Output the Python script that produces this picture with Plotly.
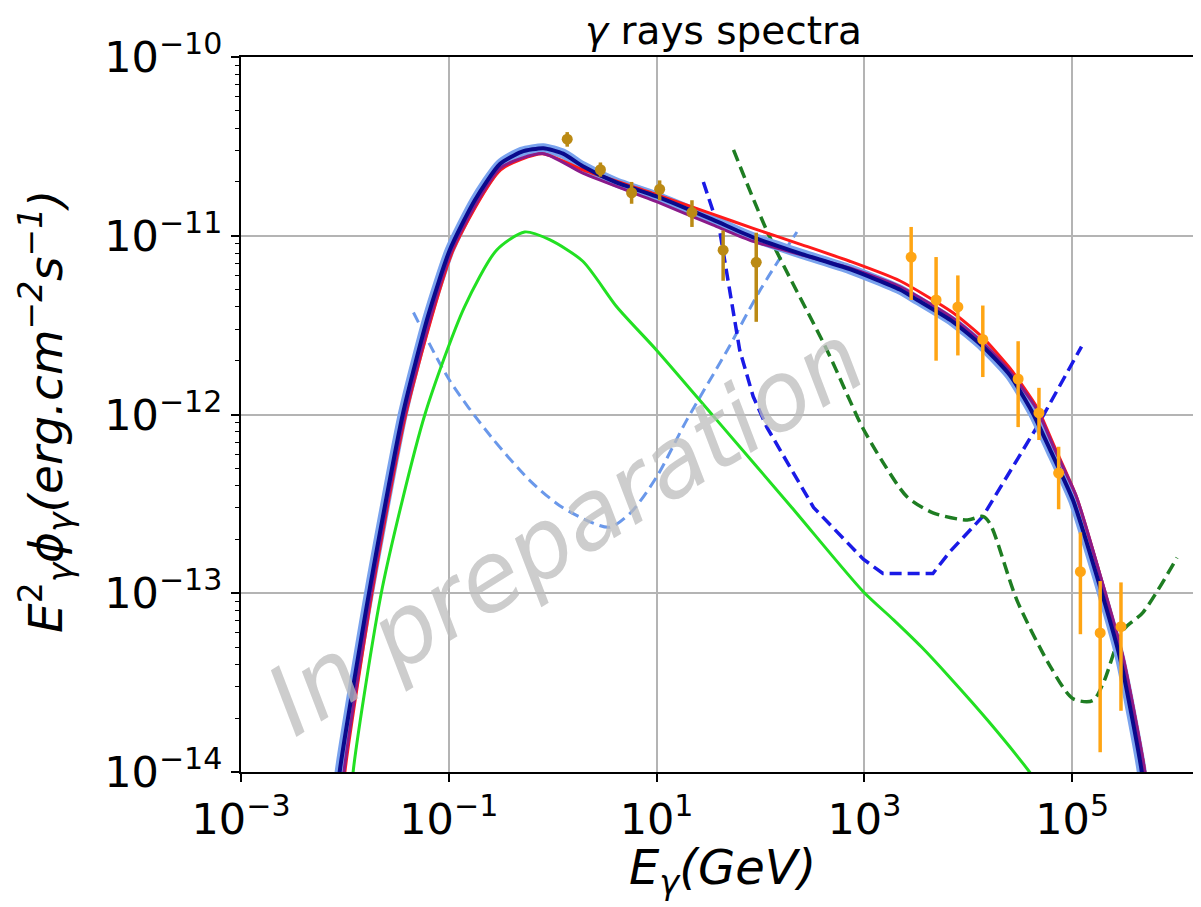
import plotly.graph_objects as go

# ---------------- data (E in GeV, E^2 phi in erg cm^-2 s^-1) ----------------
navy_E = [8.3e-3, 8.9e-3, 1.74e-2, 3.63e-2, 6.31e-2, 0.102, 0.178, 0.309, 0.501, 0.813, 1.26, 1.95,
          3.98, 10.0, 34.7, 85.1, 251, 724, 2190, 3240, 7080, 13800, 25100, 41700, 61700, 102000,
          174000, 288000, 468000, 501000]
navy_F = [6.3e-15, 1.0e-14, 1.07e-13, 1.02e-12, 3.55e-12, 8.3e-12, 1.58e-11, 2.51e-11, 2.95e-11, 3.09e-11,
          2.88e-11, 2.45e-11, 2.0e-11, 1.66e-11, 1.23e-11, 9.8e-12, 7.9e-12, 6.5e-12, 5.0e-12, 4.37e-12,
          3.31e-12, 2.40e-12, 1.66e-12, 1.02e-12, 6.3e-13, 3.31e-13, 1.23e-13, 4.37e-14, 1.0e-14, 6.3e-15]

red_E = [9.5e-3, 1.0e-2, 1.86e-2, 3.89e-2, 0.110, 0.316, 0.794, 1.95, 10.0, 34.7, 85.1, 251, 724, 2190,
         7080, 13800, 25100, 45700, 66100, 110000, 186000, 309000, 501000, 537000]
red_F = [6.3e-15, 1.0e-14, 1.07e-13, 1.02e-12, 8.3e-12, 2.34e-11, 2.88e-11, 2.34e-11, 1.70e-11, 1.32e-11,
         1.10e-11, 8.9e-12, 7.2e-12, 5.6e-12, 3.72e-12, 2.69e-12, 1.82e-12, 1.10e-12, 6.8e-13, 3.47e-13,
         1.26e-13, 4.37e-14, 1.0e-14, 6.3e-15]

purple_E = [9.3e-3, 9.8e-3, 1.82e-2, 3.80e-2, 0.107, 0.316, 0.813, 1.95, 10.0, 34.7, 85.1, 251, 724, 2190,
            7080, 13800, 25100, 45700, 66100, 110000, 186000, 309000, 501000, 537000]
purple_F = [6.3e-15, 1.0e-14, 1.07e-13, 1.02e-12, 8.3e-12, 2.40e-11, 2.88e-11, 2.24e-11, 1.55e-11, 1.15e-11,
            9.3e-12, 7.8e-12, 6.6e-12, 5.2e-12, 3.47e-12, 2.51e-12, 1.74e-12, 1.07e-12, 6.6e-13, 3.47e-13,
            1.26e-13, 4.37e-14, 1.0e-14, 6.3e-15]

green_E = [1.15e-2, 1.20e-2, 2.29e-2, 5.89e-2, 0.141, 0.288, 0.537, 0.933, 1.95, 4.17, 10.0, 38.0, 200,
           977, 1910, 3550, 6610, 15800, 38900, 44700]
green_F = [6.3e-15, 1.0e-14, 1.07e-13, 1.0e-12, 3.98e-12, 8.3e-12, 1.05e-11, 9.5e-12, 7.2e-12, 3.98e-12,
           2.29e-12, 9.3e-13, 3.02e-13, 1.02e-13, 7.1e-14, 5.0e-14, 3.39e-14, 1.91e-14, 1.0e-14, 8.9e-15]

ldash_E = [0.0457, 0.102, 0.251, 0.603, 1.17, 2.29, 3.55, 5.62, 10.0, 19.5, 47.9, 100, 224]
ldash_F = [3.72e-12, 1.55e-12, 7.6e-13, 4.27e-13, 3.09e-13, 2.51e-13, 2.34e-13, 2.82e-13, 4.47e-13,
           9.3e-13, 2.29e-12, 5.0e-12, 1.05e-11]

bdash_E = [28.2, 40.7, 63.1, 85.1, 115, 324, 977, 1510, 4570, 6610, 13800, 45700, 123000]
bdash_F = [2.0e-11, 1.05e-11, 2.29e-12, 1.26e-12, 8.5e-13, 3.02e-13, 1.55e-13, 1.29e-13, 1.29e-13,
           1.70e-13, 2.69e-13, 8.5e-13, 2.40e-12]

gdash_E = [55.0, 123, 437, 724, 955, 1510, 2570, 4570, 9770, 13800, 16200, 29500, 61700, 102000,
           158000, 200000, 309000, 479000, 1020000]
gdash_F = [3.02e-11, 9.8e-12, 2.29e-12, 1.20e-12, 8.5e-13, 5.4e-13, 3.47e-13, 2.82e-13, 2.57e-13,
           2.69e-13, 2.45e-13, 9.1e-14, 3.89e-14, 2.57e-14, 2.51e-14, 3.16e-14, 6.2e-14, 7.8e-14, 1.58e-13]

fermi_E = [1.38, 2.88, 5.75, 10.7, 21.9, 43.7, 91.0]
fermi_F = [3.47e-11, 2.34e-11, 1.74e-11, 1.82e-11, 1.35e-11, 8.3e-12, 7.1e-12]
fermi_hi = [3.80e-11, 2.57e-11, 2.00e-11, 2.04e-11, 1.58e-11, 1.07e-11, 1.04e-11]
fermi_lo = [3.15e-11, 2.14e-11, 1.51e-11, 1.58e-11, 1.12e-11, 5.6e-12, 3.3e-12]

ground_E = [2820, 4900, 7940, 13800, 30200, 47900, 74100, 120000, 186000, 295000]
ground_F = [7.6e-12, 4.37e-12, 4.0e-12, 2.63e-12, 1.58e-12, 1.02e-12, 4.7e-13, 1.32e-13, 6.0e-14, 6.5e-14]
ground_hi = [1.12e-11, 7.6e-12, 6.0e-12, 4.07e-12, 2.57e-12, 1.41e-12, 6.6e-13, 2.19e-13, 1.17e-13, 1.15e-13]
ground_lo = [4.37e-12, 2.0e-12, 2.14e-12, 1.62e-12, 8.5e-13, 7.2e-13, 2.95e-13, 5.9e-14, 1.29e-14, 2.2e-14]

x_ticks = [1e-3, 1e-1, 1e1, 1e3, 1e5]
x_ticktext = ["10<sup>−3</sup>", "10<sup>−1</sup>", "10<sup>1</sup>", "10<sup>3</sup>", "10<sup>5</sup>"]
y_ticks = [1e-10, 1e-11, 1e-12, 1e-13, 1e-14]
y_ticktext = ["10<sup>−10</sup>", "10<sup>−11</sup>", "10<sup>−12</sup>", "10<sup>−13</sup>", "10<sup>−14</sup>"]

# ---------------- figure ----------------
FONT = "DejaVu Sans"
fig = go.Figure()

def line(x, y, color, width, dash="solid", shape="spline", smoothing=0.6):
    fig.add_trace(go.Scatter(x=x, y=y, mode="lines",
                             line=dict(color=color, width=width, dash=dash, shape=shape,
                                       smoothing=smoothing if shape == "spline" else None),
                             hoverinfo="skip", showlegend=False))

line(ldash_E, ldash_F, "#6a98ea", 3, dash="11px,6px", smoothing=0.8)
line(bdash_E, bdash_F, "#1a1ae6", 3.5, dash="12px,6px", shape="linear")
line(gdash_E, gdash_F, "#1e7d22", 3.5, dash="12px,6px", smoothing=0.8)
line(green_E, green_F, "#22e022", 3, smoothing=0.7)
line(navy_E, navy_F, "#7aa3ee", 10)
line(red_E, red_F, "#ff1a1a", 3)
line(purple_E, purple_F, "#8a1a8a", 3)
line(navy_E, navy_F, "#0a0a8c", 4)

def points(x, y, hi, lo, color):
    fig.add_trace(go.Scatter(
        x=x, y=y, mode="markers",
        marker=dict(color=color, size=11),
        error_y=dict(type="data", symmetric=False,
                     array=[h - v for h, v in zip(hi, y)],
                     arrayminus=[v - l for v, l in zip(y, lo)],
                     thickness=3.5, width=0, color=color),
        hoverinfo="skip", showlegend=False))

points(fermi_E, fermi_F, fermi_hi, fermi_lo, "#bb8a14")
points(ground_E, ground_F, ground_hi, ground_lo, "#ffa514")

minor_y = [m * 10.0 ** e for e in range(-14, -10) for m in range(2, 10)]

# page has an 8 px body margin: figure is 1193x899, plot area at page (241..1201, 57..772)
fig.update_layout(
    width=1193, height=899,
    margin=dict(l=233, r=0, t=49, b=135),
    plot_bgcolor="white", paper_bgcolor="white",
    font=dict(family=FONT, color="black"),
    xaxis=dict(type="log", range=[-3, 6.24], tickmode="array", tickvals=x_ticks, ticktext=x_ticktext,
               tickfont=dict(size=43, family=FONT), showgrid=True, gridcolor="#b4b4b4", gridwidth=1.5,
               showline=True, linecolor="black", linewidth=2, mirror=True, automargin=False,
               ticks="outside", ticklen=8, tickwidth=1.5, tickcolor="black", zeroline=False),
    yaxis=dict(type="log", range=[-14, -10], tickmode="array", tickvals=y_ticks, ticktext=y_ticktext,
               tickfont=dict(size=43, family=FONT), showgrid=True, gridcolor="#b4b4b4", gridwidth=1.5,
               showline=True, linecolor="black", linewidth=2, mirror=False, automargin=False,
               ticks="outside", ticklen=8, tickwidth=1.5, tickcolor="black", zeroline=False,
               minor=dict(tickmode="array", tickvals=minor_y, ticks="outside", ticklen=4,
                          tickwidth=1.2, tickcolor="black", showgrid=False)),
)

pw = 960.0
ph = 715.0
def px(xp):
    return (xp - 241) / pw
def py(yp):
    return (772 - yp) / ph

def note(text, x, y, size, angle=0, color="black", opacity=1.0):
    fig.add_annotation(text=text, xref="paper", yref="paper", x=px(x), y=py(y),
                       xanchor="center", yanchor="middle", textangle=angle, showarrow=False,
                       opacity=opacity, font=dict(size=size, family=FONT, color=color))

note("<i>γ</i> rays spectra", 723, 30, 39)
note("<i>E</i><sub><i>γ</i></sub><i>(GeV)</i>", 722, 870, 48)
note("<i>E</i><sup>2</sup><sub><i>γ</i></sub><i>ϕ</i><sub><i>γ</i></sub>"
     "<i>(erg.cm</i><sup><i>−2</i></sup><i>s</i><sup><i>−1</i></sup><i>)</i>", 46, 412, 47, angle=-90)
note("<i>In preparation</i>", 565, 530, 96, angle=-32, color="#bdbdbd", opacity=0.75)

fig.write_html("out.html")
